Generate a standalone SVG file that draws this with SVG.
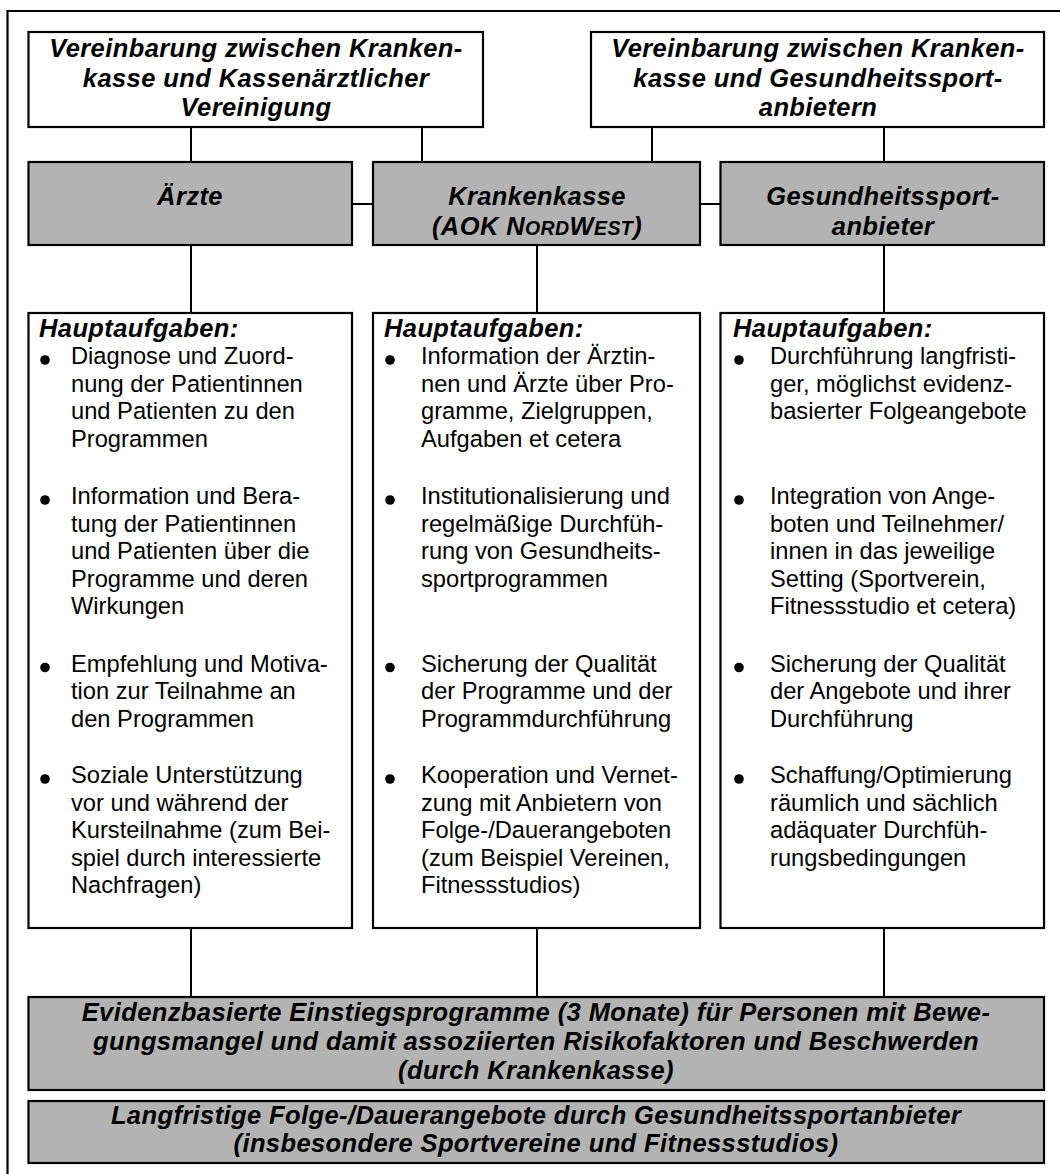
<svg xmlns="http://www.w3.org/2000/svg" width="1060" height="1174" viewBox="0 0 1060 1174">
  <style>
    .frame { fill: none; stroke: #000; stroke-width: 2.2; }
    .box { fill: #fff; stroke: #000; stroke-width: 2.2; }
    .gray { fill: #b3b3b3; stroke: #000; stroke-width: 2.2; }
    .conn line { stroke: #000; stroke-width: 2; }
    .t { font-family: "Liberation Sans", Arial, sans-serif; font-weight: bold; font-style: italic; font-size: 25.5px; letter-spacing: 0.4px; fill: #000; }
    .c { text-anchor: middle; }
    .sc { font-size: 19.5px; }
    .b { font-family: "Liberation Sans", Arial, sans-serif; font-size: 23.7px; fill: #000; }
    .dot { fill: #000; }
  </style>

  <!-- outer frame (open at right and bottom) -->
  <path class="frame" d="M7.5,1174 V11 H1060"/>

  <!-- connectors -->
  <g id="connectors" class="conn">
    <line x1="191" y1="127" x2="191" y2="162"/>
    <line x1="422" y1="127" x2="422" y2="162"/>
    <line x1="652" y1="127" x2="652" y2="162"/>
    <line x1="884" y1="127" x2="884" y2="162"/>
    <line x1="352" y1="204" x2="373" y2="204"/>
    <line x1="700" y1="204" x2="720.5" y2="204"/>
    <line x1="191" y1="245" x2="191" y2="313"/>
    <line x1="537" y1="245" x2="537" y2="313"/>
    <line x1="884" y1="245" x2="884" y2="313"/>
    <line x1="191" y1="928" x2="191" y2="997"/>
    <line x1="537" y1="928" x2="537" y2="997"/>
    <line x1="884" y1="928" x2="884" y2="997"/>
  </g>

  <!-- agreement boxes -->
  <g id="vereinbarung-kv">
    <rect class="box" x="28.5" y="32" width="454.5" height="95"/>
    <text class="t c" x="256" y="57">Vereinbarung zwischen Kranken-</text>
    <text class="t c" x="256" y="86.5">kasse und Kassenärztlicher</text>
    <text class="t c" x="256" y="116">Vereinigung</text>
  </g>
  <g id="vereinbarung-anbieter">
    <rect class="box" x="591" y="32" width="453" height="95"/>
    <text class="t c" x="818" y="57">Vereinbarung zwischen Kranken-</text>
    <text class="t c" x="818" y="86.5">kasse und Gesundheitssport-</text>
    <text class="t c" x="818" y="116">anbietern</text>
  </g>

  <!-- actors -->
  <g id="aerzte">
    <rect class="gray" x="28.5" y="162" width="323.5" height="83"/>
    <text class="t c" x="190" y="205">Ärzte</text>
  </g>
  <g id="krankenkasse">
    <rect class="gray" x="373" y="162" width="327" height="83"/>
    <text class="t c" x="537" y="205">Krankenkasse</text>
    <text class="t c" x="537" y="235">(AOK N<tspan class="sc">ORD</tspan>W<tspan class="sc">EST</tspan>)</text>
  </g>
  <g id="gesundheitssportanbieter">
    <rect class="gray" x="720.5" y="162" width="323.5" height="83"/>
    <text class="t c" x="883" y="205">Gesundheitssport-</text>
    <text class="t c" x="883" y="235">anbieter</text>
  </g>

  <!-- task lists -->
  <g id="aufgaben-aerzte">
    <rect class="box" x="28.5" y="313" width="323.5" height="615"/>
    <text class="t" x="39" y="337">Hauptaufgaben:</text>
    <circle class="dot" cx="45" cy="360" r="4.8"/>
    <text class="b" x="71" y="364">Diagnose und Zuord-<tspan x="71" dy="27.5">nung der Patientinnen</tspan><tspan x="71" dy="27.5">und Patienten zu den</tspan><tspan x="71" dy="27.5">Programmen</tspan></text>
    <circle class="dot" cx="45" cy="500" r="4.8"/>
    <text class="b" x="71" y="504">Information und Bera-<tspan x="71" dy="27.5">tung der Patientinnen</tspan><tspan x="71" dy="27.5">und Patienten über die</tspan><tspan x="71" dy="27.5">Programme und deren</tspan><tspan x="71" dy="27.5">Wirkungen</tspan></text>
    <circle class="dot" cx="45" cy="667.5" r="4.8"/>
    <text class="b" x="71" y="671.5">Empfehlung und Motiva-<tspan x="71" dy="27.5">tion zur Teilnahme an</tspan><tspan x="71" dy="27.5">den Programmen</tspan></text>
    <circle class="dot" cx="45" cy="779" r="4.8"/>
    <text class="b" x="71" y="783">Soziale Unterstützung<tspan x="71" dy="27.5">vor und während der</tspan><tspan x="71" dy="27.5">Kursteilnahme (zum Bei-</tspan><tspan x="71" dy="27.5">spiel durch interessierte</tspan><tspan x="71" dy="27.5">Nachfragen)</tspan></text>
  </g>

  <g id="aufgaben-krankenkasse">
    <rect class="box" x="373" y="313" width="327" height="615"/>
    <text class="t" x="384" y="337">Hauptaufgaben:</text>
    <circle class="dot" cx="390" cy="360" r="4.8"/>
    <text class="b" x="421" y="364">Information der Ärztin-<tspan x="421" dy="27.5">nen und Ärzte über Pro-</tspan><tspan x="421" dy="27.5">gramme, Zielgruppen,</tspan><tspan x="421" dy="27.5">Aufgaben et cetera</tspan></text>
    <circle class="dot" cx="390" cy="500" r="4.8"/>
    <text class="b" x="421" y="504">Institutionalisierung und<tspan x="421" dy="27.5">regelmäßige Durchfüh-</tspan><tspan x="421" dy="27.5">rung von Gesundheits-</tspan><tspan x="421" dy="27.5">sportprogrammen</tspan></text>
    <circle class="dot" cx="390" cy="667.5" r="4.8"/>
    <text class="b" x="421" y="671.5">Sicherung der Qualität<tspan x="421" dy="27.5">der Programme und der</tspan><tspan x="421" dy="27.5">Programmdurchführung</tspan></text>
    <circle class="dot" cx="390" cy="779" r="4.8"/>
    <text class="b" x="421" y="783">Kooperation und Vernet-<tspan x="421" dy="27.5">zung mit Anbietern von</tspan><tspan x="421" dy="27.5">Folge-/Dauerangeboten</tspan><tspan x="421" dy="27.5">(zum Beispiel Vereinen,</tspan><tspan x="421" dy="27.5">Fitnessstudios)</tspan></text>
  </g>

  <g id="aufgaben-anbieter">
    <rect class="box" x="720.5" y="313" width="323.5" height="615"/>
    <text class="t" x="733" y="337">Hauptaufgaben:</text>
    <circle class="dot" cx="739" cy="360" r="4.8"/>
    <text class="b" x="770" y="364">Durchführung langfristi-<tspan x="770" dy="27.5">ger, möglichst evidenz-</tspan><tspan x="770" dy="27.5">basierter Folgeangebote</tspan></text>
    <circle class="dot" cx="739" cy="500" r="4.8"/>
    <text class="b" x="770" y="504">Integration von Ange-<tspan x="770" dy="27.5">boten und Teilnehmer/</tspan><tspan x="770" dy="27.5">innen in das jeweilige</tspan><tspan x="770" dy="27.5">Setting (Sportverein,</tspan><tspan x="770" dy="27.5">Fitnessstudio et cetera)</tspan></text>
    <circle class="dot" cx="739" cy="667.5" r="4.8"/>
    <text class="b" x="770" y="671.5">Sicherung der Qualität<tspan x="770" dy="27.5">der Angebote und ihrer</tspan><tspan x="770" dy="27.5">Durchführung</tspan></text>
    <circle class="dot" cx="739" cy="779" r="4.8"/>
    <text class="b" x="770" y="783">Schaffung/Optimierung<tspan x="770" dy="27.5">räumlich und sächlich</tspan><tspan x="770" dy="27.5">adäquater Durchfüh-</tspan><tspan x="770" dy="27.5">rungsbedingungen</tspan></text>
  </g>

  <!-- programme bars -->
  <g id="einstiegsprogramme">
    <rect class="gray" x="28.5" y="997" width="1015.5" height="93"/>
    <text class="t c" x="536" y="1021">Evidenzbasierte Einstiegsprogramme (3 Monate) für Personen mit Bewe-</text>
    <text class="t c" x="536" y="1050">gungsmangel und damit assoziierten Risikofaktoren und Beschwerden</text>
    <text class="t c" x="536" y="1079">(durch Krankenkasse)</text>
  </g>
  <g id="folgeangebote">
    <rect class="gray" x="28.5" y="1101" width="1015.5" height="62"/>
    <text class="t c" x="536" y="1124">Langfristige Folge-/Dauerangebote durch Gesundheitssportanbieter</text>
    <text class="t c" x="536" y="1152">(insbesondere Sportvereine und Fitnessstudios)</text>
  </g>
</svg>
